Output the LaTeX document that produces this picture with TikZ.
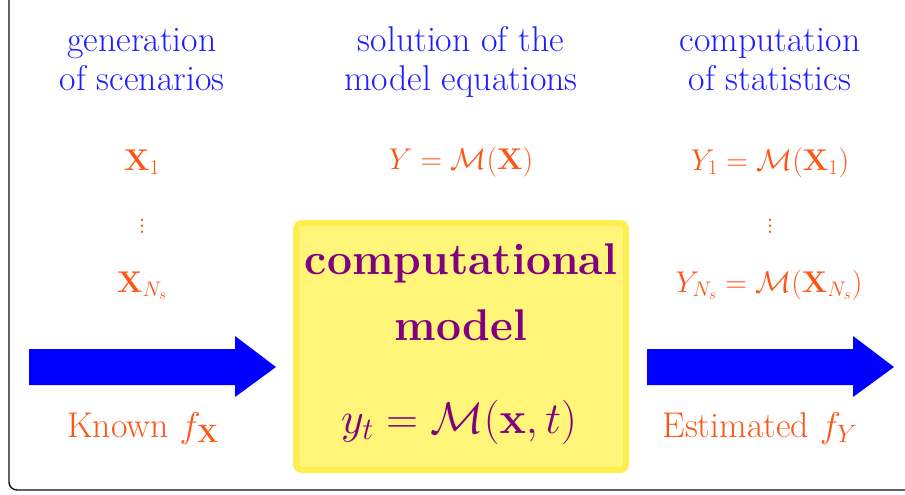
\RequirePackage{fix-cm}
\documentclass[tikz,border=0pt]{standalone}
\usepackage{amsmath,amssymb}
\definecolor{myblue}{RGB}{30,30,255}
\definecolor{myorange}{RGB}{255,85,20}
\definecolor{mypurple}{RGB}{128,0,128}
\definecolor{boxfill}{RGB}{255,245,120}
\definecolor{boxedge}{RGB}{255,238,80}
\definecolor{framecol}{RGB}{15,15,15}
\newcommand\myvdots{\vbox{\baselineskip6pt\lineskiplimit0pt\lineskip0pt\hbox{.}\hbox{.}\hbox{.}}}
\tikzset{
  headtxt/.style={anchor=base, text=myblue, font=\fontsize{35.8}{40}\selectfont, inner sep=0pt},
  formtxt/.style={anchor=base, text=myorange, font=\fontsize{30}{34}\selectfont, inner sep=0pt},
  labtxt/.style={anchor=base, text=myorange, font=\fontsize{35.8}{40}\selectfont, inner sep=0pt},
  boxtxt/.style={anchor=base, text=mypurple, font=\fontsize{44.4}{50}\selectfont, inner sep=0pt},
  bigarrow/.style={fill=blue, draw=none},
}
\begin{document}
\begin{tikzpicture}[x=1pt,y=-1pt]
\useasboundingbox (0,0) rectangle (905,495);
\clip (0,0) rectangle (905,495);
\fill[white] (0,0) rectangle (905,495);
% frame
\draw[framecol, line width=1.4pt, rounded corners=8pt] (9,-30) -- (9,490) -- (940,490);
% model box
\node[draw=boxedge, fill=boxfill, line width=6pt, rounded corners=6pt,
      minimum width=330pt, minimum height=247pt, inner sep=0pt] (model) at (461,346.5) {};
% headings
\node[headtxt] (gen1) at (142,52) {generation};
\node[headtxt] (gen2) at (142,90) {of scenarios};
\node[headtxt] (sol1) at (461,52) {solution of the};
\node[headtxt] (sol2) at (461,90) {model equations};
\node[headtxt] (com1) at (770,52) {computation};
\node[headtxt] (com2) at (770,90) {of statistics};
% formulas
\node[formtxt] (x1) at (142,170) {$\mathbf{X}_1$};
\node[formtxt, anchor=center] (xd) at (142,226) {\myvdots};
\node[formtxt] (xn) at (142,292) {$\mathbf{X}_{N_s}$};
\node[formtxt] (ym) at (461,169) {$Y=\mathcal{M}(\mathbf{X})$};
\node[formtxt] (y1) at (770,170) {$Y_1=\mathcal{M}(\mathbf{X}_1)$};
\node[formtxt, anchor=center] (yd) at (770,226) {\myvdots};
\node[formtxt] (yn) at (769,292) {$Y_{N_s}=\mathcal{M}(\mathbf{X}_{N_s})$};
% box text
\node[boxtxt] (bt1) at (461,274) {\textbf{computational}};
\node[boxtxt] (bt2) at (461,340) {\textbf{model}};
\node[boxtxt] (bt3) at (459,433) {$y_t=\mathcal{M}(\mathbf{x},t)$};
% arrows
\fill[bigarrow] (29,349) -- (235,349) -- (235,336) -- (276,367) -- (235,397) -- (235,385) -- (29,385) -- cycle;
\fill[bigarrow] (647,349) -- (853,349) -- (853,336) -- (894,367) -- (853,397) -- (853,385) -- (647,385) -- cycle;
% labels
\node[labtxt] (kn) at (143,437) {Known $f_{\mathbf{X}}$};
\node[labtxt] (es) at (760,437) {Estimated $f_Y$};
\end{tikzpicture}
\end{document}
